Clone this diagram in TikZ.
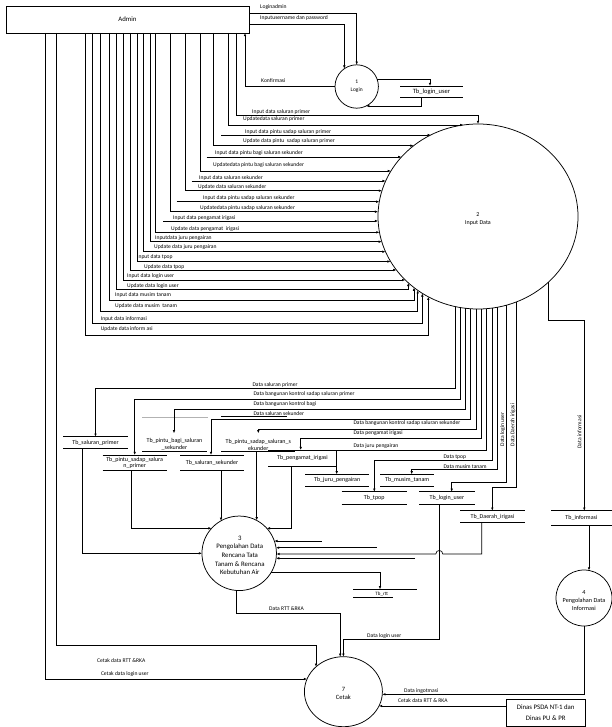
\documentclass[tikz,border=0pt]{standalone}
\usepackage{fontspec}
\setmainfont{Carlito}
\usetikzlibrary{arrows.meta,shapes.geometric}
\newcommand\bordY[7]{%
  \pgfmathsetmacro\myq{((#6)-(#3))/(#5)}%
  \pgfmathsetmacro\myp{(#2)+(#7)*(#4)*sqrt(max(0,1-\myq*\myq))}%
  \coordinate (#1) at (\myp,#6);}
\newcommand\bordX[7]{%
  \pgfmathsetmacro\myq{((#6)-(#2))/(#4)}%
  \pgfmathsetmacro\myp{(#3)+(#7)*(#5)*sqrt(max(0,1-\myq*\myq))}%
  \coordinate (#1) at (#6,\myp);}
\begin{document}
\begin{tikzpicture}[x=1pt,y=-1pt,
  ln/.style={line width=0.65pt},
  fl/.style={line width=0.65pt,-{Latex[length=3.2pt,width=2.6pt]}},
  lbl/.style={font=\fontsize{5.6}{6}\selectfont,inner sep=0pt,anchor=west},
  vlb/.style={font=\fontsize{5.6}{6}\selectfont,inner sep=0pt,rotate=90},
  stx/.style={font=\fontsize{6}{6.9}\selectfont,inner sep=0pt,outer sep=0pt,align=center},
  proc/.style={draw,ellipse,line width=0.75pt,inner sep=0pt,outer sep=0pt},
  ptx/.style={inner sep=0pt,align=center}]
\useasboundingbox (0,0) rectangle (612,727);

% ---------- entities and processes ----------
\node[draw,ln,minimum width=243pt,minimum height=27pt,inner sep=0pt,outer sep=0pt,anchor=north west,font=\fontsize{6.8}{7}\selectfont] (admin) at (6,6) {Admin};
\node[draw,ln,minimum width=78.6pt,minimum height=27.4pt,inner sep=0pt,outer sep=0pt,anchor=north west,align=center,font=\fontsize{6.8}{11}\selectfont] (dinas) at (506.4,699.3) {Dinas PSDA NT-1 dan\\Dinas PU \& PR};

\node[proc,minimum width=43.4pt,minimum height=43.4pt] (c1) at (356.7,86.5) {};
\node[ptx,font=\fontsize{5.5}{8.3}\selectfont] (c1t) at (356.7,86) {1\\Login};
\node[proc,minimum width=200pt,minimum height=185pt] (c2) at (478,216.5) {};
\node[ptx,font=\fontsize{6}{8.3}\selectfont] (c2t) at (478,219.2) {2\\Input Data};
\node[proc,minimum width=74.5pt,minimum height=74.5pt] (c3) at (239.2,553.3) {};
\node[ptx,font=\fontsize{6.8}{8.6}\selectfont] (c3t) at (239.8,555.3) {3\\Pengolahan Data\\Rencana Tata\\Tanam \& Rencana\\Kebutuhan Air};
\node[proc,minimum width=56pt,minimum height=56pt] (c4) at (584,598) {};
\node[ptx,font=\fontsize{6.2}{8}\selectfont] (c4t) at (584,600.5) {4\\Pengolahan Data\\Informasi};
\node[proc,minimum width=78pt,minimum height=70pt] (c7) at (343.4,691.7) {};
\node[ptx,font=\fontsize{6.5}{8}\selectfont] (c7t) at (343.4,693.3) {7\\Cetak};

% ---------- data stores ----------
\node[stx,minimum width=63pt,minimum height=11.7pt,font=\fontsize{6.5}{7}\selectfont] (s1) at (431.5,91.85) {Tb\_login\_user};
\node[stx,minimum width=64.4pt,minimum height=11.6pt] (s2) at (95.5,442.5) {Tb\_saluran\_primer};
\node[stx,minimum width=64pt,minimum height=15.7pt] (s3) at (134.7,462.85) {Tb\_pintu\_sadap\_salura\\n\_primer};
\node[stx,font=\fontsize{6}{7.6}\selectfont] (s4) at (174.5,444.5) {Tb\_pintu\_bagi\_saluran\\\_sekunder};
\node[stx,minimum width=64pt,minimum height=15pt] (s5) at (212,462.5) {Tb\_saluran\_sekunder};
\node[stx,font=\fontsize{6}{7.3}\selectfont] (s6) at (258.3,444.65) {Tb\_pintu\_sadap\_saluran\_s\\ekunder};
\node[stx,minimum width=68.4pt,minimum height=16pt] (s7) at (302.5,458) {Tb\_pengamat\_irigasi};
\node[stx,minimum width=64.3pt,minimum height=11.7pt] (s8) at (337.2,480.2) {Tb\_juru\_pengairan};
\node[stx,minimum width=54.3pt,minimum height=11.7pt] (s9) at (407.2,480.2) {Tb\_musim\_tanam};
\node[stx,minimum width=65pt,minimum height=12.3pt] (s10) at (374.2,497.9) {Tb\_tpop};
\node[stx,minimum width=56pt,minimum height=12.3pt] (s11) at (447,497.9) {Tb\_login\_user};
\node[stx,minimum width=65pt,minimum height=11.6pt] (s12) at (492.5,516.5) {Tb\_Daerah\_irigasi};
\node[stx,minimum width=60.7pt,minimum height=14.3pt] (s13) at (581.4,517.9) {Tb\_informasi};
\node[stx,font=\fontsize{5}{6}\selectfont] (s14) at (381.7,594) {Tb\_rtt};
\foreach \s in {s1,s2,s3,s5,s7,s8,s9,s10,s11,s12,s13}
  \draw[ln] (\s.north west) -- (\s.north east) (\s.south west) -- (\s.south east);
\draw[ln,gray!60] (142.3,417.7) -- (207.7,417.7);
\draw[ln] (142.3,451) -- (206.7,451);
\draw[ln] (221,416.7) -- (286.7,416.7);
\draw[ln] (221,451) -- (295,451);
\draw[ln] (353.3,589.3) -- (417.3,589.3);
\draw[ln] (353.3,597.3) -- (392.7,597.3);

% ---------- border points ----------
\foreach \n/\yy in {2/125,3/135,4/145.7,5/157,6/171,7/181,8/190.7,9/201.7,10/211.7,11/221,12/232.3,13/241.7,14/251.7,15/261.5,16/270,17/280}
  {\bordY{L\n}{478}{216.5}{100}{92.5}{\yy}{-1}}
\foreach \n/\xx in {18/408.3,19/414,20/417.7,21/422.3,22/428.3}
  {\bordX{B\n}{478}{216.5}{100}{92.5}{\xx}{1}}
\foreach \n/\xx in {1/455,2/460,3/465.3,4/470.7,5/476,6/481.7,7/486.7,8/492.3,9/497.3,10/506.7,11/516,12/548.3}
  {\bordX{D\n}{478}{216.5}{100}{92.5}{\xx}{1}}
\bordX{P1}{356.7}{86.5}{21.7}{21.7}{344.3}{-1}
\bordY{P2}{356.7}{86.5}{21.7}{21.7}{79.3}{1}
\bordY{P3}{356.7}{86.5}{21.7}{21.7}{106}{1}
\bordY{Q3}{239.2}{553.3}{37.25}{37.25}{528.3}{-1}
\bordX{Q5}{239.2}{553.3}{37.25}{37.25}{221}{-1}
\bordX{Q6}{239.2}{553.3}{37.25}{37.25}{256.7}{-1}
\bordY{Q7}{239.2}{553.3}{37.25}{37.25}{528.3}{1}
\bordY{Q8}{239.2}{553.3}{37.25}{37.25}{541}{1}
\bordY{Q9}{239.2}{553.3}{37.25}{37.25}{547.7}{1}
\bordY{Q10}{239.2}{553.3}{37.25}{37.25}{554}{1}
\bordY{Q11}{239.2}{553.3}{37.25}{37.25}{558.3}{1}
\bordY{Q12}{239.2}{553.3}{37.25}{37.25}{572.7}{1}
\bordX{Q13}{239.2}{553.3}{37.25}{37.25}{236.7}{1}
\bordX{T4}{584}{598}{28}{28}{589}{-1}
\bordX{R0}{343.4}{691.7}{39}{35}{316}{-1}
\bordY{R00}{343.4}{691.7}{39}{35}{679}{-1}
\bordX{R1}{343.4}{691.7}{39}{35}{340.2}{-1}
\bordY{R3}{343.4}{691.7}{39}{35}{694.3}{1}
\bordY{R4}{343.4}{691.7}{39}{35}{706}{1}
\coordinate (a4) at (174,433.3);
\coordinate (a6) at (258.3,433.3);
\coordinate (a14) at (380,589.3);

% ---------- login ----------
\draw[fl] (admin.east |- 0,13.3) -| (c1.north);
\draw[fl] (admin.east |- 0,24.3) -| (P1);
\draw[fl] (c1.west) -| (admin.south -| 245,0);
\draw[fl] (P2) -| (s1.north -| 430,0);
\draw[fl] (s1.south -| 421.7,0) |- (P3);
\node[lbl] (l01) at (260,6.7) {Loginadmin};
\node[lbl] (l02) at (260,18.3) {Inputusername dan password};
\node[lbl] (l03) at (261,81) {Konfirmasi};

% ---------- admin -> input data ----------
\draw[fl] (admin.south -| 236,0) |- (478,115) -- (c2.north);
\draw[fl] (admin.south -| 228,0) |- (L2);
\coordinate (f3) at (221,135); \draw[fl] (f3) -- (L3);
\draw[fl] (admin.south -| 213,0) |- (L4);
\coordinate (f5) at (206.7,157); \draw[fl] (f5) -- (L5);
\draw[fl] (admin.south -| 200,0) |- (L6);
\coordinate (f7) at (191.7,181); \draw[fl] (f7) -- (L7);
\draw[fl] (admin.south -| 185,0) |- (L8);
\coordinate (f9) at (176.7,201.7); \draw[fl] (f9) -- (L9);
\draw[fl] (admin.south -| 170,0) |- (L10);
\coordinate (f11) at (163.3,221); \draw[fl] (f11) -- (L11);
\draw[fl] (admin.south -| 155.7,0) |- (L12);
\draw[fl] (admin.south -| 150,0) |- (L13);
\draw[fl] (admin.south -| 143.3,0) |- (L14);
\draw[fl] (admin.south -| 137.3,0) |- (L15);
\draw[fl] (admin.south -| 130,0) |- (L16);
\draw[fl] (admin.south -| 123.3,0) |- (L17);
\draw[fl] (admin.south -| 116.7,0) |- (408.3,289.5) -- (B18);
\draw[fl] (admin.south -| 109.3,0) |- (414,300) -- (B19);
\draw[fl] (admin.south -| 100.7,0) |- (417.7,311) -- (B20);
\draw[fl] (admin.south -| 92.3,0) |- (422.3,323.5) -- (B21);
\draw[fl] (admin.south -| 85,0) |- (428.3,335) -- (B22);

\node[lbl] (m01) at (252,111.7) {Input data saluran primer};
\node[lbl] (m02) at (243,119.5) {Updatedata saluran primer};
\node[lbl] (m03) at (245,132) {Input data pintu sadap saluran primer};
\node[lbl] (m04) at (243,141.3) {Update data pintu\ \ sadap saluran primer};
\node[lbl] (m05) at (215,153.3) {Input data pintu bagi saluran sekunder};
\node[lbl] (m06) at (213,165) {Updatedata pintu bagi saluran sekunder};
\node[lbl] (m07) at (199,178.3) {Input data saluran sekunder};
\node[lbl] (m08) at (198,187.3) {Update data saluran sekunder};
\node[lbl] (m09) at (203,198.3) {Input data pintu sadap saluran sekunder};
\node[lbl] (m10) at (200,207.7) {Updatedata pintu sadap saluran sekunder};
\node[lbl] (m11) at (173,217.7) {Input data pengamat irigasi};
\node[lbl] (m12) at (171,229) {Update data pengamat\ \ irigasi};
\node[lbl] (m13) at (155,238) {Inputdata juru pengairan};
\node[lbl] (m14) at (154,247.3) {Update data juru pengairan};
\node[lbl] (m15) at (137,257.3) {Input data tpop};
\node[lbl] (m16) at (144,267.3) {Update data tpop};
\node[lbl] (m17) at (127,276) {Input data login user};
\node[lbl] (m18) at (127,285.7) {Update data login user};
\node[lbl] (m19) at (115,295) {Input data musim tanam};
\node[lbl] (m20) at (115,305.7) {Update data musim\ \ tanam};
\node[lbl] (m21) at (100.7,319) {Input data informasi};
\node[lbl] (m22) at (100.7,329.3) {Update data inform asi};

% ---------- input data -> stores ----------
\draw[fl] (D1) -- (455,388.3) -| (s2.north);
\draw[fl] (D2) -- (460,399) -| (s3.north);
\draw[fl] (D3) -- (465.3,409) -| (a4);
\draw[fl] (D4) -- (470.7,419.3) -| (s5.north -| 211,0);
\draw[fl] (D5) -- (476,429.3) -| (a6);
\draw[fl] (D6) -- (481.7,438.3) -| (s7.north -| 300.7,0);
\draw[fl] (D7) -- (486.7,450) -| (s8.north -| 336.7,0);
\draw[fl] (D8) -- (492.3,460) -| (s10.north -| 374.3,0);
\draw[fl] (D9) -- (497.3,469) -| (s9.north -| 411.7,0);
\draw[fl] (D10) -- (506.7,482) -| (s11.north -| 451.7,0);
\draw[fl] (D11) -- (516,487) -| (s12.north -| 492.3,0);
\draw[fl] (D12) -- (548.3,320) -| (s13.north -| 584.3,0);

\node[lbl] (n01) at (252.3,385) {Data saluran primer};
\node[lbl] (n02) at (253.3,394) {Data bangunan kontrol sadap saluran primer};
\node[lbl] (n03) at (253.3,404) {Data bangunan kontrol bagi};
\node[lbl] (n04) at (253.3,413.5) {Data saluran sekunder};
\node[lbl] (n05) at (353.3,423.3) {Data bangunan kontrol sadap saluran sekunder};
\node[lbl] (n06) at (353.3,433.3) {Data pengamat irigasi};
\node[lbl] (n07) at (353.3,446) {Data juru pengairan};
\node[lbl] (n08) at (443.3,457.3) {Data tpop};
\node[lbl] (n09) at (443.3,466.7) {Data musim tanam};
\node[vlb] (n10) at (502.7,429.3) {Data login user};
\node[vlb] (n11) at (512.8,425) {Data Daerah irigasi};
\node[vlb] (n12) at (579.5,432) {Data informasi};

% ---------- stores -> process 3 ----------
\draw[fl] (s2.south -| 82.3,0) |- (c3);
\draw[fl] (s3.south -| 131.7,0) |- (Q3);
\draw[fl] (s5.south -| 221,0) -- (Q5);
\draw[fl] (256.7,451) -- (Q6);
\draw[fl] (s7.south -| 291.7,0) |- (Q7);
\coordinate (g1) at (321.7,541); \draw[fl] (g1) -- (Q8);
\coordinate (g2) at (376.7,547.7); \draw[fl] (g2) -- (Q9);
\coordinate (g3) at (415,558.3); \draw[fl] (g3) -- (Q11);
\draw[fl] (s12.south -| 481.7,0) |- (442.8,554) .. controls (442.8,549.3) and (435.8,549.3) .. (435.8,554) -- (Q10);
\draw[fl] (Q12) -| (a14);

% ---------- to cetak ----------
\draw[fl] (Q13) |- (340.2,613.3) -- (R1);
\draw[fl] (s11.south -| 439.3,0) |- (343.4,639.3) -- (c7.north);
\draw[fl] (admin.south -| 56,0) |- (316,645.7) -- (R0);
\draw[fl] (admin.south -| 45,0) |- (R00);
\draw[fl] (s13.south -| 589,0) -- (T4);
\draw[fl] (c4.south) |- (R3);
\draw[fl] (dinas.west |- 0,706) -- (R4);

\node[lbl] (o01) at (269,609) {Data RTT \&RKA};
\node[lbl] (o02) at (367,636) {Data login user};
\node[lbl] (o03) at (97,661) {Cetak data RTT \&RKA};
\node[lbl] (o04) at (100.8,674) {Cetak data login user};
\node[lbl] (o05) at (404,690.7) {Data ingotmasi};
\node[lbl] (o06) at (398,700.7) {Cetak data RTT \& RKA};
\end{tikzpicture}
\end{document}
